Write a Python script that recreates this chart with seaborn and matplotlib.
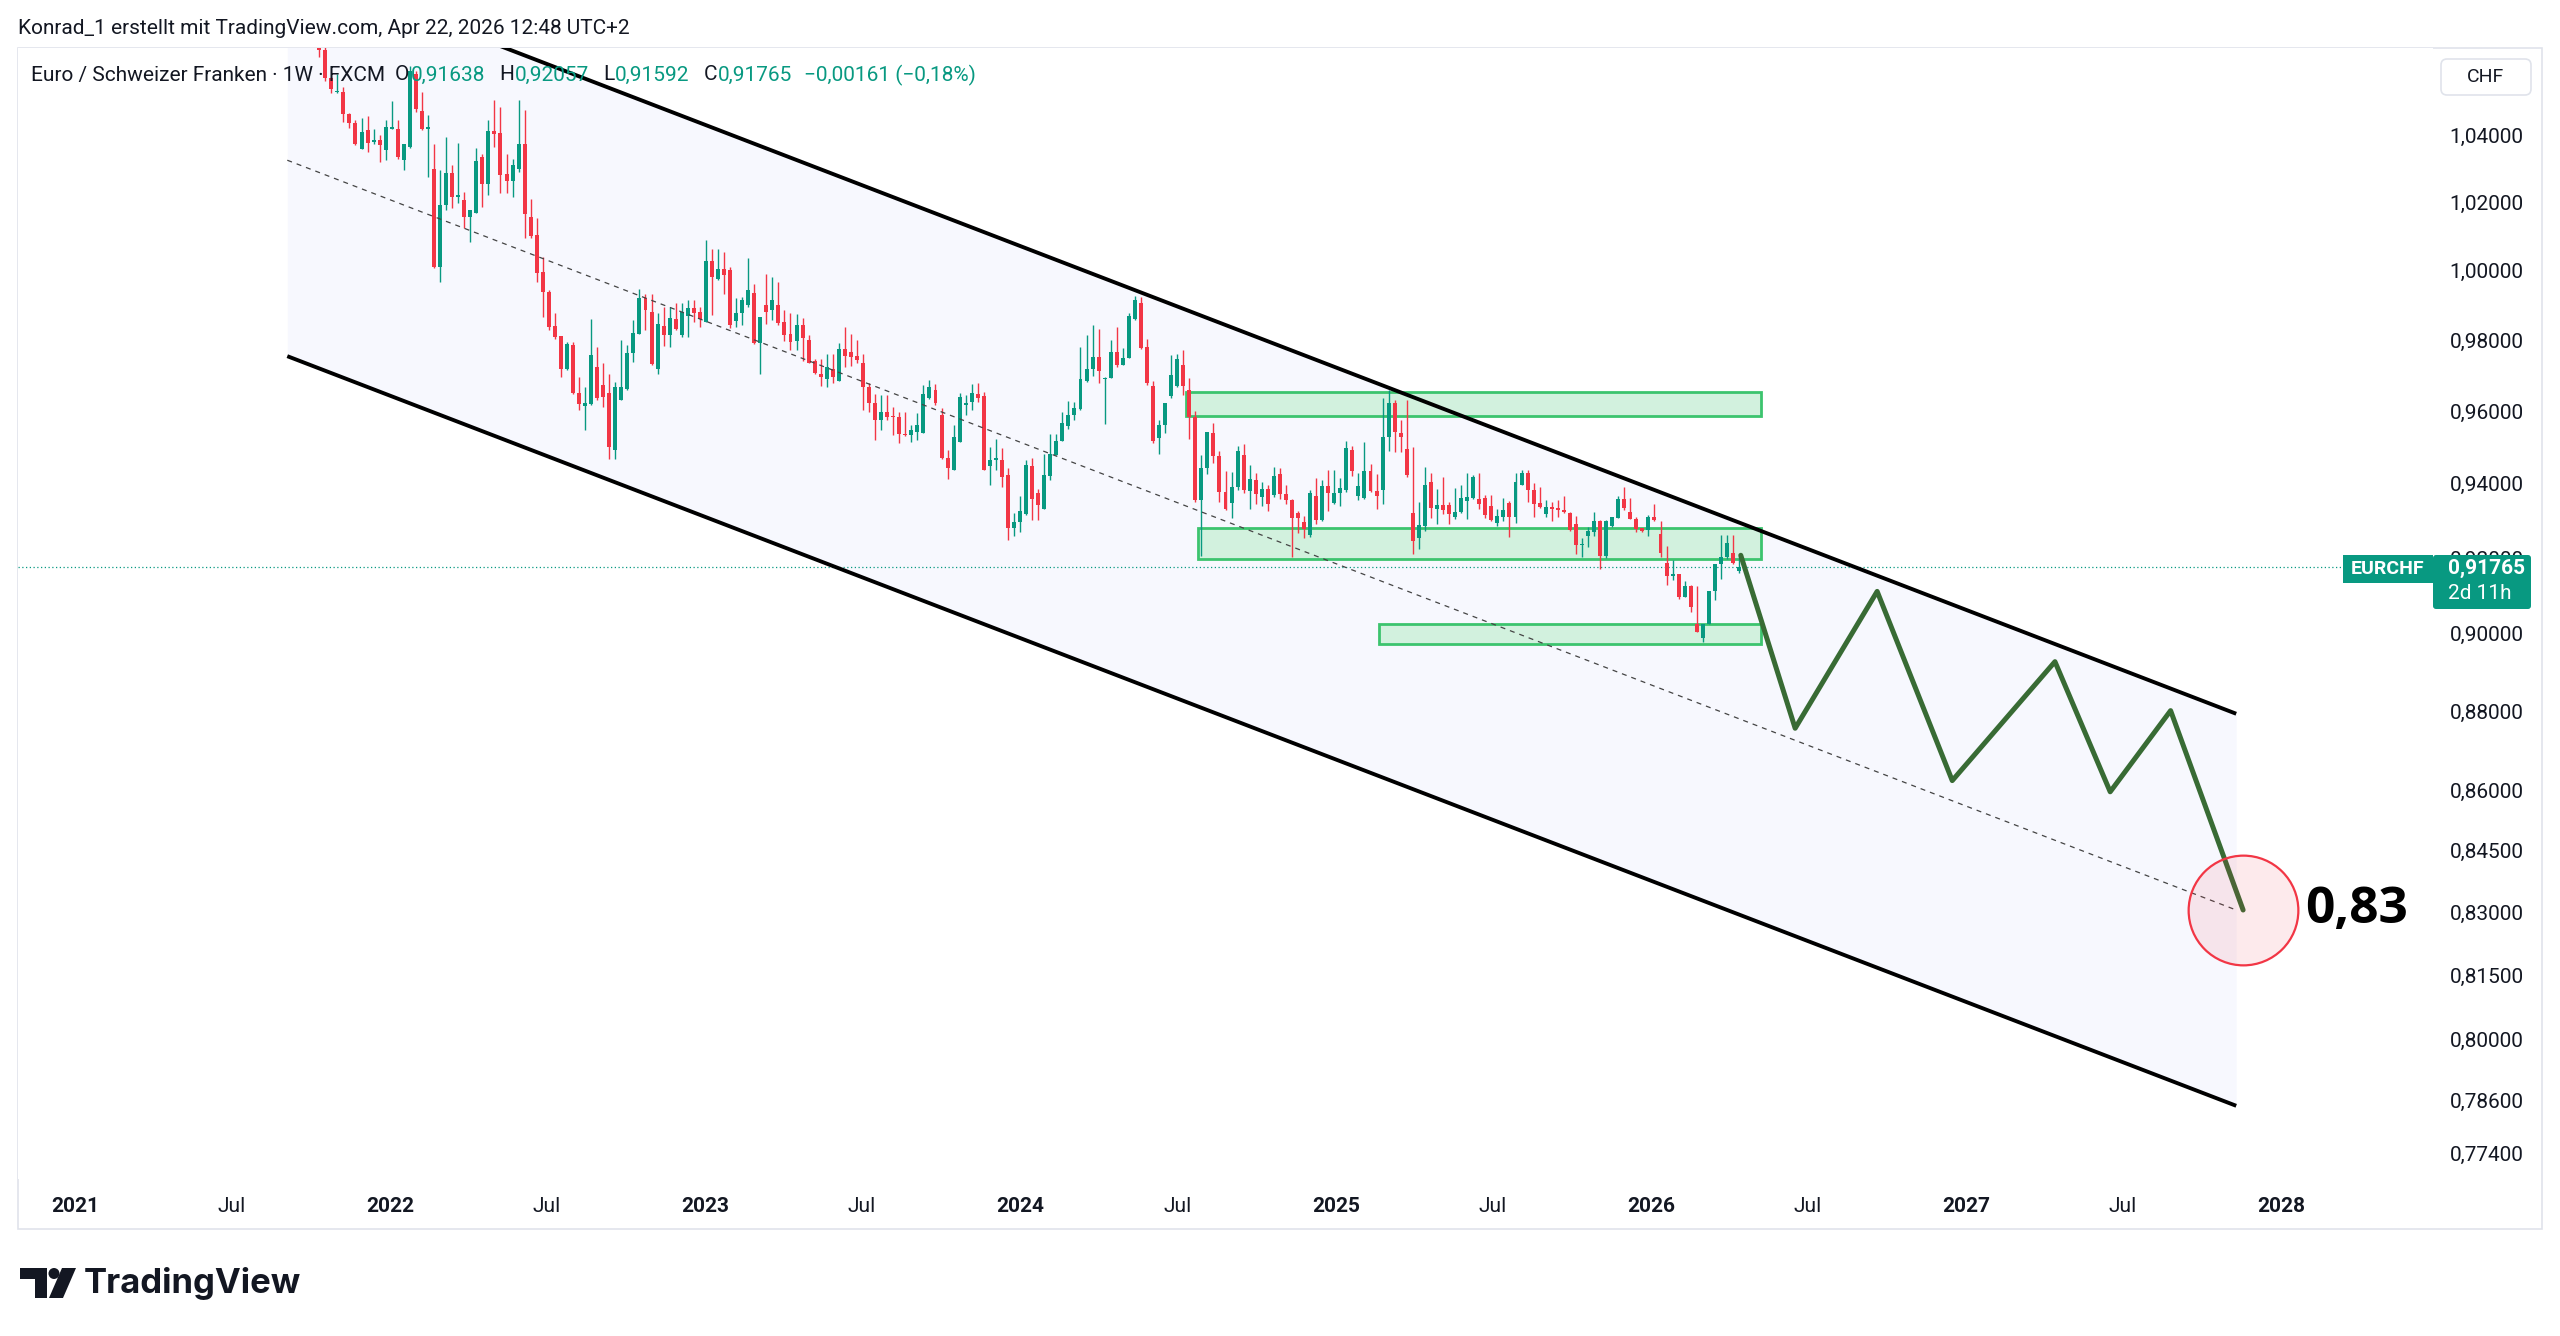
import numpy as np
import pandas as pd
import matplotlib
matplotlib.use("Agg")
import matplotlib.pyplot as plt
import matplotlib.dates as mdates
import matplotlib.ticker as mticker
import matplotlib.patches as mpatches
from matplotlib.transforms import IdentityTransform
import seaborn as sns

# ---- weekly EUR/CHF candles (first bar: week of 2021-10-11) ----
first_week = "2021-10-11"
opens = [
    1.0720, 1.0661, 1.0574, 1.0533, 1.0533, 1.0467, 1.0437, 1.0361, 1.0416, 1.0381,
    1.0386, 1.0358, 1.0421, 1.0419, 1.0328, 1.0366, 1.0589, 1.0474, 1.0419, 1.0301,
    1.0011, 1.0192, 1.0288, 1.0217, 1.0207, 1.0156, 1.0170, 1.0336, 1.0256, 1.0415,
    1.0408, 1.0284, 1.0264, 1.0301, 1.0374, 1.0158, 1.0104, 0.9995, 0.9939, 0.9840,
    0.9811, 0.9720, 0.9788, 0.9650, 0.9615, 0.9620, 0.9725, 0.9675, 0.9652, 0.9494,
    0.9633, 0.9662, 0.9764, 0.9819, 0.9920, 0.9882, 0.9720, 0.9841, 0.9815, 0.9861,
    0.9815, 0.9870, 0.9892, 0.9880, 0.9853, 1.0029, 0.9975, 1.0004, 1.0002, 0.9856,
    0.9877, 0.9901, 0.9936, 0.9793, 0.9901, 0.9887, 0.9901, 0.9852, 0.9817, 0.9799,
    0.9844, 0.9800, 0.9740, 0.9704, 0.9691, 0.9718, 0.9685, 0.9774, 0.9766, 0.9755,
    0.9737, 0.9668, 0.9623, 0.9577, 0.9597, 0.9585, 0.9584, 0.9538, 0.9534, 0.9543,
    0.9540, 0.9638, 0.9659, 0.9590, 0.9470, 0.9439, 0.9515, 0.9618, 0.9626, 0.9648,
    0.9644, 0.9448, 0.9466, 0.9466, 0.9425, 0.9281, 0.9297, 0.9318, 0.9448, 0.9374,
    0.9332, 0.9422, 0.9480, 0.9519, 0.9559, 0.9591, 0.9606, 0.9685, 0.9720, 0.9754,
    0.9690, 0.9693, 0.9768, 0.9731, 0.9751, 0.9860, 0.9907, 0.9782, 0.9670, 0.9526,
    0.9562, 0.9642, 0.9670, 0.9729, 0.9661, 0.9584, 0.9355, 0.9443, 0.9540, 0.9477,
    0.9378, 0.9348, 0.9392, 0.9480, 0.9380, 0.9410, 0.9365, 0.9386, 0.9369, 0.9426,
    0.9371, 0.9357, 0.9320, 0.9296, 0.9262, 0.9367, 0.9302, 0.9395, 0.9348, 0.9376,
    0.9383, 0.9494, 0.9368, 0.9361, 0.9435, 0.9380, 0.9383, 0.9528, 0.9624, 0.9540,
    0.9496, 0.9320, 0.9253, 0.9285, 0.9404, 0.9331, 0.9342, 0.9342, 0.9311, 0.9324,
    0.9354, 0.9361, 0.9360, 0.9361, 0.9341, 0.9293, 0.9311, 0.9348, 0.9311, 0.9398,
    0.9430, 0.9384, 0.9347, 0.9318, 0.9338, 0.9335, 0.9329, 0.9320, 0.9290, 0.9234,
    0.9258, 0.9270, 0.9298, 0.9206, 0.9286, 0.9307, 0.9359, 0.9323, 0.9304, 0.9279,
    0.9274, 0.9309, 0.9263, 0.9187, 0.9153, 0.9156, 0.9097, 0.9126, 0.9025, 0.8988,
    0.9025, 0.9112, 0.9183, 0.9203, 0.9214, 0.91638,
]
highs = [
    1.0750, 1.0670, 1.0580, 1.0589, 1.0548, 1.0470, 1.0447, 1.0452, 1.0458, 1.0420,
    1.0401, 1.0447, 1.0504, 1.0447, 1.0376, 1.0612, 1.0598, 1.0533, 1.0464, 1.0374,
    1.0296, 1.0396, 1.0311, 1.0377, 1.0232, 1.0177, 1.0364, 1.0346, 1.0447, 1.0509,
    1.0488, 1.0346, 1.0331, 1.0508, 1.0477, 1.0210, 1.0153, 1.0041, 0.9944, 0.9877,
    0.9811, 0.9795, 0.9795, 0.9696, 0.9668, 0.9862, 0.9782, 0.9737, 0.9706, 0.9682,
    0.9800, 0.9788, 0.9857, 0.9948, 0.9934, 0.9934, 0.9877, 0.9896, 0.9896, 0.9906,
    0.9906, 0.9915, 0.9915, 0.9896, 1.0090, 1.0064, 1.0064, 1.0055, 1.0010, 0.9920,
    0.9925, 1.0036, 0.9962, 0.9866, 0.9991, 0.9983, 0.9967, 0.9887, 0.9877, 0.9875,
    0.9864, 0.9816, 0.9746, 0.9746, 0.9760, 0.9760, 0.9793, 0.9838, 0.9819, 0.9800,
    0.9760, 0.9679, 0.9649, 0.9645, 0.9645, 0.9612, 0.9598, 0.9598, 0.9563, 0.9594,
    0.9673, 0.9688, 0.9677, 0.9608, 0.9492, 0.9561, 0.9650, 0.9645, 0.9677, 0.9680,
    0.9654, 0.9502, 0.9524, 0.9497, 0.9443, 0.9322, 0.9366, 0.9466, 0.9470, 0.9385,
    0.9483, 0.9538, 0.9538, 0.9597, 0.9628, 0.9626, 0.9782, 0.9815, 0.9844, 0.9831,
    0.9697, 0.9800, 0.9837, 0.9777, 0.9879, 0.9927, 0.9925, 0.9805, 0.9686, 0.9575,
    0.9624, 0.9757, 0.9760, 0.9772, 0.9692, 0.9601, 0.9478, 0.9543, 0.9568, 0.9489,
    0.9434, 0.9432, 0.9503, 0.9508, 0.9452, 0.9429, 0.9406, 0.9397, 0.9445, 0.9443,
    0.9397, 0.9359, 0.9327, 0.9313, 0.9383, 0.9417, 0.9410, 0.9438, 0.9438, 0.9415,
    0.9519, 0.9503, 0.9429, 0.9515, 0.9454, 0.9426, 0.9636, 0.9661, 0.9633, 0.9577,
    0.9631, 0.9500, 0.9350, 0.9445, 0.9429, 0.9387, 0.9420, 0.9350, 0.9389, 0.9396,
    0.9429, 0.9424, 0.9429, 0.9369, 0.9369, 0.9332, 0.9361, 0.9352, 0.9429, 0.9437,
    0.9439, 0.9401, 0.9391, 0.9357, 0.9350, 0.9355, 0.9368, 0.9323, 0.9313, 0.9252,
    0.9283, 0.9323, 0.9302, 0.9302, 0.9311, 0.9368, 0.9391, 0.9362, 0.9309, 0.9279,
    0.9316, 0.9344, 0.9300, 0.9231, 0.9194, 0.9156, 0.9138, 0.9129, 0.9126, 0.9025,
    0.9113, 0.9183, 0.9262, 0.9262, 0.9262, 0.92057,
]
lows = [
    1.0640, 1.0565, 1.0528, 1.0528, 1.0442, 1.0422, 1.0372, 1.0361, 1.0351, 1.0376,
    1.0321, 1.0326, 1.0419, 1.0331, 1.0296, 1.0364, 1.0472, 1.0417, 1.0276, 1.0009,
    0.9966, 1.0178, 1.0185, 1.0200, 1.0124, 1.0084, 1.0168, 1.0187, 1.0222, 1.0366,
    1.0227, 1.0227, 1.0217, 1.0290, 1.0094, 1.0094, 0.9968, 0.9866, 0.9829, 0.9805,
    0.9696, 0.9716, 0.9649, 0.9605, 0.9547, 0.9617, 0.9632, 0.9612, 0.9467, 0.9467,
    0.9631, 0.9660, 0.9739, 0.9819, 0.9830, 0.9730, 0.9706, 0.9785, 0.9781, 0.9829,
    0.9810, 0.9810, 0.9853, 0.9838, 0.9853, 0.9872, 0.9972, 0.9934, 0.9835, 0.9839,
    0.9845, 0.9895, 0.9789, 0.9705, 0.9847, 0.9858, 0.9845, 0.9797, 0.9772, 0.9772,
    0.9740, 0.9737, 0.9706, 0.9672, 0.9668, 0.9678, 0.9685, 0.9723, 0.9727, 0.9735,
    0.9604, 0.9599, 0.9520, 0.9548, 0.9575, 0.9534, 0.9511, 0.9532, 0.9515, 0.9520,
    0.9540, 0.9635, 0.9618, 0.9468, 0.9414, 0.9439, 0.9515, 0.9590, 0.9605, 0.9627,
    0.9437, 0.9398, 0.9439, 0.9392, 0.9248, 0.9259, 0.9269, 0.9315, 0.9301, 0.9301,
    0.9332, 0.9410, 0.9478, 0.9519, 0.9552, 0.9575, 0.9604, 0.9682, 0.9698, 0.9680,
    0.9564, 0.9692, 0.9725, 0.9730, 0.9749, 0.9859, 0.9776, 0.9675, 0.9513, 0.9482,
    0.9540, 0.9638, 0.9667, 0.9647, 0.9522, 0.9350, 0.9206, 0.9426, 0.9457, 0.9350,
    0.9330, 0.9306, 0.9383, 0.9376, 0.9332, 0.9345, 0.9341, 0.9327, 0.9364, 0.9359,
    0.9345, 0.9202, 0.9267, 0.9253, 0.9257, 0.9290, 0.9299, 0.9327, 0.9345, 0.9341,
    0.9378, 0.9422, 0.9357, 0.9358, 0.9378, 0.9331, 0.9345, 0.9491, 0.9487, 0.9487,
    0.9420, 0.9211, 0.9225, 0.9271, 0.9308, 0.9290, 0.9318, 0.9290, 0.9304, 0.9322,
    0.9304, 0.9359, 0.9332, 0.9306, 0.9299, 0.9285, 0.9299, 0.9257, 0.9294, 0.9398,
    0.9350, 0.9309, 0.9334, 0.9309, 0.9300, 0.9309, 0.9320, 0.9272, 0.9210, 0.9203,
    0.9228, 0.9258, 0.9170, 0.9200, 0.9283, 0.9307, 0.9329, 0.9304, 0.9270, 0.9270,
    0.9258, 0.9300, 0.9203, 0.9129, 0.9142, 0.9091, 0.9097, 0.9057, 0.9005, 0.8977,
    0.9025, 0.9088, 0.9143, 0.9198, 0.9184, 0.91592,
]
closes = [
    1.0661, 1.0574, 1.0543, 1.0537, 1.0467, 1.0437, 1.0374, 1.0411, 1.0378, 1.0386,
    1.0371, 1.0427, 1.0425, 1.0336, 1.0374, 1.0598, 1.0482, 1.0419, 1.0425, 1.0011,
    1.0192, 1.0288, 1.0217, 1.0222, 1.0156, 1.0177, 1.0324, 1.0256, 1.0415, 1.0406,
    1.0281, 1.0264, 1.0311, 1.0374, 1.0166, 1.0100, 0.9994, 0.9937, 0.9838, 0.9809,
    0.9720, 0.9789, 0.9651, 0.9620, 0.9624, 0.9758, 0.9636, 0.9640, 0.9501, 0.9667,
    0.9669, 0.9765, 0.9821, 0.9920, 0.9886, 0.9734, 0.9846, 0.9815, 0.9863, 0.9832,
    0.9880, 0.9892, 0.9877, 0.9860, 1.0029, 0.9981, 1.0004, 0.9988, 0.9844, 0.9877,
    0.9915, 0.9945, 0.9791, 0.9866, 0.9882, 0.9915, 0.9850, 0.9815, 0.9796, 0.9844,
    0.9806, 0.9737, 0.9708, 0.9695, 0.9723, 0.9697, 0.9774, 0.9755, 0.9753, 0.9744,
    0.9668, 0.9622, 0.9577, 0.9597, 0.9585, 0.9584, 0.9538, 0.9534, 0.9547, 0.9562,
    0.9648, 0.9668, 0.9622, 0.9470, 0.9444, 0.9529, 0.9639, 0.9622, 0.9652, 0.9638,
    0.9439, 0.9466, 0.9470, 0.9419, 0.9281, 0.9297, 0.9327, 0.9451, 0.9360, 0.9343,
    0.9423, 0.9481, 0.9519, 0.9568, 0.9589, 0.9610, 0.9691, 0.9720, 0.9754, 0.9714,
    0.9693, 0.9768, 0.9729, 0.9751, 0.9870, 0.9916, 0.9779, 0.9680, 0.9517, 0.9562,
    0.9624, 0.9701, 0.9747, 0.9670, 0.9584, 0.9355, 0.9443, 0.9543, 0.9475, 0.9378,
    0.9331, 0.9392, 0.9489, 0.9383, 0.9413, 0.9373, 0.9386, 0.9345, 0.9422, 0.9373,
    0.9355, 0.9306, 0.9308, 0.9278, 0.9376, 0.9302, 0.9395, 0.9376, 0.9376, 0.9388,
    0.9499, 0.9435, 0.9395, 0.9435, 0.9380, 0.9367, 0.9528, 0.9624, 0.9543, 0.9528,
    0.9424, 0.9244, 0.9287, 0.9398, 0.9333, 0.9342, 0.9330, 0.9318, 0.9324, 0.9361,
    0.9364, 0.9420, 0.9346, 0.9315, 0.9302, 0.9313, 0.9330, 0.9311, 0.9404, 0.9430,
    0.9383, 0.9346, 0.9336, 0.9338, 0.9332, 0.9329, 0.9323, 0.9274, 0.9234, 0.9238,
    0.9272, 0.9298, 0.9206, 0.9300, 0.9309, 0.9359, 0.9334, 0.9304, 0.9277, 0.9272,
    0.9309, 0.9302, 0.9212, 0.9153, 0.9155, 0.9097, 0.9126, 0.9071, 0.9005, 0.9025,
    0.9112, 0.9183, 0.9203, 0.9239, 0.9186, 0.91765,
]
last_price = 0.91765

# ---- drawings ----
channel_dates = ["2021-09-04", "2027-11-10"]
channel_upper = [1.0931, 0.8793]
channel_mid = [1.0326, 0.8306]
channel_lower = [0.9755, 0.7847]

zone_start = ["2024-07-11", "2024-07-25", "2025-02-20"]
zone_end = ["2026-05-08", "2026-05-08", "2026-05-08"]
zone_bottom = [0.9587, 0.9197, 0.8972]
zone_top = [0.9654, 0.9279, 0.9024]

proj_dates = ["2026-04-15", "2026-06-17", "2026-09-20", "2026-12-16",
              "2027-04-14", "2027-06-17", "2027-08-26", "2027-11-18"]
proj_prices = [0.9207, 0.8756, 0.9111, 0.8624, 0.8927, 0.8596, 0.8801, 0.8306]
target_label = "0,83"

price_ticks = [1.04, 1.02, 1.00, 0.98, 0.96, 0.94, 0.92, 0.90, 0.88, 0.86,
               0.845, 0.83, 0.815, 0.80, 0.786, 0.774]
time_ticks = ["2021-01-01", "2021-07-01", "2022-01-01", "2022-07-01", "2023-01-01",
              "2023-07-01", "2024-01-01", "2024-07-01", "2025-01-01", "2025-07-01",
              "2026-01-01", "2026-07-01", "2027-01-01", "2027-07-01", "2028-01-01"]
time_labels = ["2021", "Jul", "2022", "Jul", "2023", "Jul", "2024", "Jul",
               "2025", "Jul", "2026", "Jul", "2027", "Jul", "2028"]

GREEN = "#089981"
RED = "#f23645"
DARK = "#131722"
FS = 15

sns.set_theme(style="white")
plt.rcParams["font.family"] = ["Roboto", "DejaVu Sans"]

W, H = 2560, 1336
fig = plt.figure(figsize=(W / 100, H / 100), dpi=100)
fig.patch.set_facecolor("white")


def fx(px):
    return px / W


def fy(py):
    return 1 - py / H


# pane: x 18..2433, y 48..1179 (pixels from top-left)
ax = fig.add_axes([fx(18), fy(1179), fx(2433 - 18), (1179 - 48) / H])
ax.set_facecolor("white")
ax.set_yscale("log")

d2n = lambda s: mdates.date2num(pd.to_datetime(s))

# channel
cx = d2n(channel_dates)
ax.fill_between(cx, channel_lower, channel_upper, color="#f7f8fe", lw=0, zorder=0)
ax.plot(cx, channel_upper, color="black", lw=2.8, zorder=5, solid_capstyle="butt")
ax.plot(cx, channel_lower, color="black", lw=2.8, zorder=5, solid_capstyle="butt")
ax.plot(cx, channel_mid, color="#444444", lw=0.9, ls=(0, (4, 4)), zorder=5)

# zones
for s, e, b, t in zip(zone_start, zone_end, zone_bottom, zone_top):
    x0, x1 = d2n(s), d2n(e)
    ax.add_patch(mpatches.Rectangle((x0, b), x1 - x0, t - b, facecolor="#d2f1de",
                                    edgecolor="#3cc46e", lw=2.0, zorder=1))

# last price line
ax.axhline(last_price, color=GREEN, lw=0.9, ls=(0, (1, 2)), zorder=2)

# candles
x = mdates.date2num(pd.date_range(first_week, periods=len(closes), freq="7D"))
o, h, l, c = (np.array(v) for v in (opens, highs, lows, closes))
col = np.where(c >= o, GREEN, RED)
ax.vlines(x, l, h, colors=col, linewidth=1.0, zorder=3)
ax.bar(x, np.maximum(np.abs(c - o), 0.00035), bottom=np.minimum(o, c), width=4.6,
       color=col, linewidth=0, zorder=3)

# projection path
proj = pd.DataFrame({"date": d2n(proj_dates), "price": proj_prices})
sns.lineplot(data=proj, x="date", y="price", ax=ax, color="#386b34", lw=3.6,
             sort=False, zorder=6)
ax.plot([proj["date"].iloc[-1]], [proj_prices[-1]], marker="o", ms=79,
        mfc=(0.949, 0.212, 0.271, 0.10), mec=RED, mew=1.6, zorder=7, clip_on=False)
ax.annotate(target_label, xy=(proj["date"].iloc[-1], proj_prices[-1]),
            xytext=(45, 0), textcoords="offset points", ha="left", va="center",
            fontsize=37, fontweight="bold", color="black",
            family=["Open Sans", "DejaVu Sans"], zorder=8)

# axes
ax.set_xlim(d2n("2020-10-27"), d2n("2028-06-25"))
ax.set_ylim(0.7682, 1.0668)
ax.set_xlabel("")
ax.set_ylabel("")
ax.grid(False)
for sp in ax.spines.values():
    sp.set_visible(False)

ax.yaxis.tick_right()
ax.yaxis.set_major_locator(mticker.FixedLocator(price_ticks))
ax.yaxis.set_minor_locator(mticker.NullLocator())
ax.yaxis.set_major_formatter(mticker.FuncFormatter(lambda v, _: f"{v:.5f}".replace(".", ",")))
ax.tick_params(axis="y", length=0, pad=12, labelsize=FS, labelcolor=DARK)

ax.set_xticks(d2n(time_ticks))
ax.set_xticklabels(time_labels)
ax.xaxis.set_minor_locator(mticker.NullLocator())
ax.tick_params(axis="x", length=0, pad=13, labelsize=FS, labelcolor=DARK)
for t in ax.get_xticklabels():
    if t.get_text() != "Jul":
        t.set_fontweight("bold")

# outer frame
fig.add_artist(mpatches.Rectangle((fx(18), fy(1229)), fx(2542 - 18), (1229 - 48) / H,
                                  transform=fig.transFigure, fill=False,
                                  ec="#e0e3eb", lw=1.2, zorder=0))

# header
fig.text(fx(18), fy(28), "Konrad_1 erstellt mit TradingView.com, Apr 22, 2026 12:48 UTC+2",
         fontsize=FS, color=DARK, va="center", ha="left")

renderer = fig.canvas.get_renderer()
legend_parts = [
    ("Euro / Schweizer Franken · 1W · FXCM", DARK, 10),
    ("O", DARK, 1), ("0,91638", GREEN, 14),
    ("H", DARK, 1), ("0,92057", GREEN, 14),
    ("L", DARK, 1), ("0,91592", GREEN, 14),
    ("C", DARK, 1), ("0,91765", GREEN, 11),
    ("−0,00161 (−0,18%)", GREEN, 0),
]
xpos = 31
for s, color, gap in legend_parts:
    t = fig.text(fx(xpos), fy(75), s, fontsize=FS, color=color, va="center", ha="left")
    xpos += t.get_window_extent(renderer).width + gap

# pixel-space helpers (y from top)
ident = IdentityTransform()


def px_box(x0, y0, x1, y1, **kw):
    p = mpatches.FancyBboxPatch((x0, H - y1), x1 - x0, y1 - y0, transform=ident, **kw)
    fig.add_artist(p)


# currency box
px_box(2441, 59, 2531, 95, boxstyle="round,pad=0,rounding_size=6",
       fc="white", ec="#e0e3eb", lw=1.2)
fig.text(fx(2486), fy(77), "CHF", fontsize=FS - 1, color=DARK, ha="center", va="center")

# price tags (they cover the 0,92000 label, as on the original screen)
px_box(2343, 555, 2433, 583, boxstyle="square,pad=0", fc=GREEN, ec="none", zorder=5)
fig.text(fx(2388), fy(569), "EURCHF", fontsize=FS - 1, fontweight="semibold",
         color="white", ha="center", va="center", zorder=6)
px_box(2433, 555, 2531, 609, boxstyle="round,pad=0,rounding_size=3", fc=GREEN,
       ec="none", zorder=5)
fig.text(fx(2448), fy(568), "0,91765", fontsize=FS, fontweight="semibold", color="white",
         ha="left", va="center", zorder=6)
fig.text(fx(2448), fy(594), "2d 11h", fontsize=FS, color="white", ha="left",
         va="center", zorder=6)

# TradingView logo
logo_t = [(20, 1268), (47, 1268), (47, 1298), (35, 1298), (35, 1279), (20, 1279)]
logo_slash = [(62, 1268), (76, 1268), (63, 1298), (49, 1298)]
for pts in (logo_t, logo_slash):
    fig.add_artist(mpatches.Polygon([(a, H - b) for a, b in pts], closed=True,
                                    transform=ident, fc=DARK, ec="none"))
fig.add_artist(mpatches.Circle((54, H - 1273.5), 5.5, transform=ident, fc=DARK, ec="none"))
fig.text(fx(84), fy(1284), "TradingView", fontsize=25, fontweight="bold", color=DARK,
         ha="left", va="center", family=["Inter", "DejaVu Sans"])

fig.savefig("out.png", dpi=100, facecolor="white")
